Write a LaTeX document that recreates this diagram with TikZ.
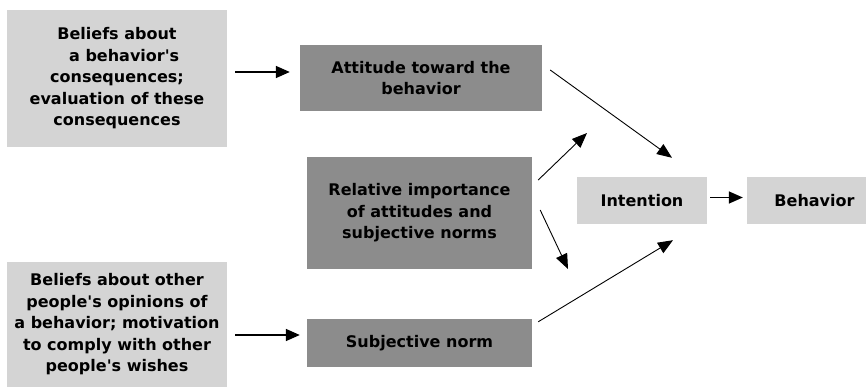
\documentclass[tikz,border=0pt]{standalone}
\usepackage{fontspec}
\setmainfont{DejaVu Sans}
\usetikzlibrary{arrows.meta}
\definecolor{lightbox}{RGB}{212,212,212}
\definecolor{darkbox}{RGB}{140,140,140}
\newcommand{\sq}{\textquotesingle}
\begin{document}
\begin{tikzpicture}[x=1pt,y=-1pt,
 box/.style={inner sep=0pt, align=center, font=\bfseries\fontsize{16}{21.5}\selectfont, text=black},
 lbox/.style={box, fill=lightbox},
 dbox/.style={box, fill=darkbox},
 harrow/.style={line width=1.5pt, -{Triangle[length=14pt,width=12pt]}},
 darrow/.style={line width=0.9pt, -{Triangle[length=15pt,width=12pt]}}]
\useasboundingbox (0,0) rectangle (866,387);
\node[lbox, minimum width=220pt, minimum height=137pt] (b1) at (117,78.5)
  {Beliefs about\\\hspace*{0.9em}a behavior\sq s\\consequences;\\evaluation of these\\consequences};
\node[dbox, minimum width=242pt, minimum height=66pt] (att) at (421,78)
  {Attitude toward the\\behavior};
\node[dbox, minimum width=225pt, minimum height=112pt] (rel) at (419.5,213)
  {Relative importance\\of attitudes and\\subjective norms};
\node[lbox, minimum width=220pt, minimum height=125pt] (b4) at (117,324.5)
  {Beliefs about other\\people\sq s opinions of\\a behavior; motivation\\to comply with other\\people\sq s wishes};
\node[dbox, minimum width=225pt, minimum height=48pt] (sn) at (419.5,343)
  {Subjective norm};
\node[lbox, minimum width=130pt, minimum height=47pt] (int) at (642,200.5)
  {Intention};
\node[lbox, minimum width=119pt, minimum height=47pt] (beh) at (806.5,200.5)
  {\hspace*{16pt}Behavior};
\coordinate (relup) at (587,133);
\coordinate (reldown) at (568,269);
% connectors
\draw[harrow] ([xshift=8pt,yshift=6.5pt]b1.east) -- ([xshift=-10pt,yshift=6pt]att.west);
\draw[harrow] ([xshift=8pt,yshift=-10.5pt]b4.east) -- ([xshift=-7pt,yshift=8pt]sn.west);
\draw[darrow] ([xshift=8pt,yshift=8pt]att.east) -- ([xshift=30pt,yshift=19pt]int.north);
\draw[darrow] ([xshift=6pt,yshift=-3pt]sn.north east) -- ([xshift=31pt,yshift=-16pt]int.south);
\draw[darrow] ([xshift=6pt,yshift=33pt]rel.east) -- (relup);
\draw[darrow] ([xshift=8pt,yshift=3pt]rel.east) -- (reldown);
\draw[harrow] ([xshift=3pt,yshift=3pt]int.east) -- ([xshift=-4pt,yshift=3pt]beh.west);
\end{tikzpicture}
\end{document}
